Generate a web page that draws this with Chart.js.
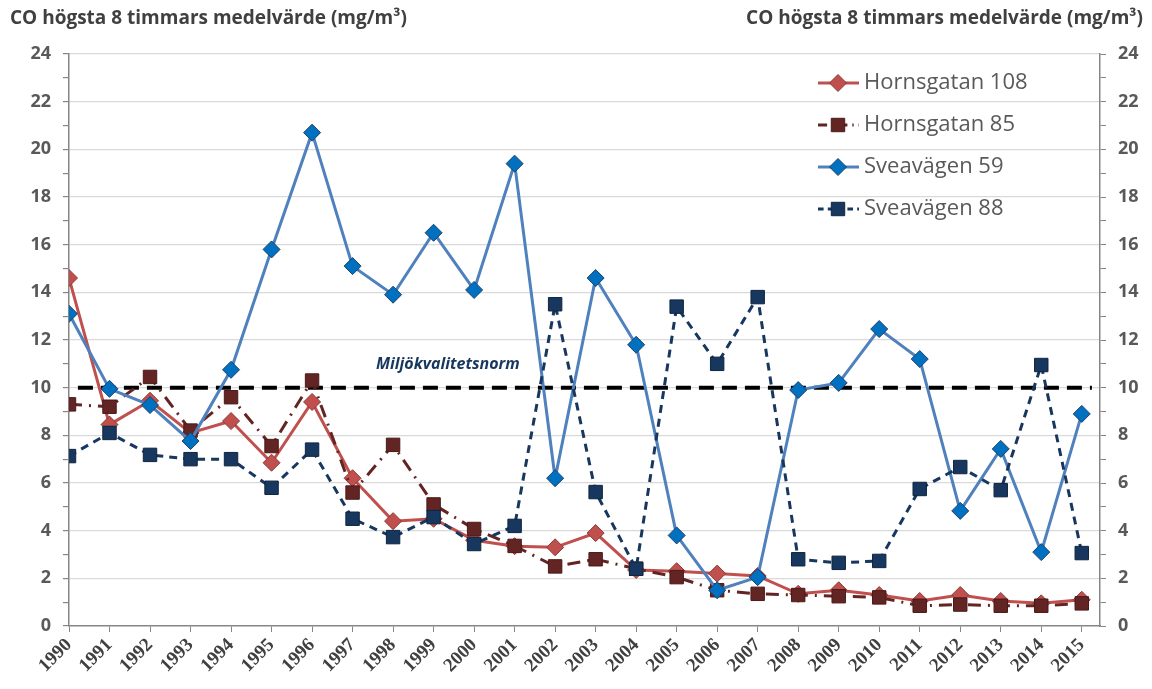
<!DOCTYPE html>
<html>
<head>
<meta charset="utf-8">
<script src="https://cdn.jsdelivr.net/npm/chart.js@4.4.0/dist/chart.umd.min.js"></script>
<style>
    body { margin: 0; background: #ffffff; }
    #wrap { width: 1152px; height: 689px; }
</style>
</head>
<body>
<div id="wrap"><canvas id="myChart"></canvas></div>
<script>
// data
const years = [1990, 1991, 1992, 1993, 1994, 1995, 1996, 1997, 1998, 1999, 2000, 2001, 2002,
    2003, 2004, 2005, 2006, 2007, 2008, 2009, 2010, 2011, 2012, 2013, 2014, 2015];
const hornsgatan108 = [14.6, 8.45, 9.45, 8.1, 8.6, 6.85, 9.4, 6.2, 4.4, 4.5, 3.6, 3.35, 3.3,
    3.9, 2.35, 2.3, 2.2, 2.1, 1.35, 1.5, 1.3, 1.05, 1.3, 1.05, 0.95, 1.1];
const hornsgatan85 = [9.3, 9.2, 10.45, 8.2, 9.6, 7.55, 10.3, 5.6, 7.6, 5.1, 4.07, 3.36, 2.5,
    2.8, 2.4, 2.05, 1.5, 1.35, 1.3, 1.25, 1.2, 0.85, 0.9, 0.85, 0.85, 0.95];
const sveavagen59 = [13.1, 9.95, 9.27, 7.76, 10.75, 15.8, 20.7, 15.1, 13.9, 16.5, 14.1, 19.4, 6.2,
    14.6, 11.8, 3.8, 1.5, 2.05, 9.9, 10.2, 12.46, 11.2, 4.83, 7.43, 3.1, 8.9];
const sveavagen88 = [7.13, 8.1, 7.18, 7.0, 7.0, 5.8, 7.4, 4.5, 3.73, 4.57, 3.44, 4.2, 13.5,
    5.62, 2.4, 13.4, 11.0, 13.8, 2.8, 2.65, 2.73, 5.75, 6.67, 5.7, 10.95, 3.06];
const normValue = 10;
const normLabel = 'Miljökvalitetsnorm';
const axisTitle = 'CO högsta 8 timmars medelvärde (mg/m³)';

const toPoints = (vals) => vals.map((v, i) => ({ x: years[i], y: v }));

const series = [
    { label: 'Hornsgatan 108', data: hornsgatan108, line: '#c0504d', fill: '#c0504d', edge: '#8a3a37', dash: [], style: 'rectRot', r: 8.5 },
    { label: 'Hornsgatan 85', data: hornsgatan85, line: '#632523', fill: '#632523', edge: '#4a1a19', dash: [13, 7, 2, 7], style: 'rect', r: 9.5 },
    { label: 'Sveavägen 59', data: sveavagen59, line: '#4f81bd', fill: '#0070c0', edge: '#1f3f66', dash: [], style: 'rectRot', r: 8.5 },
    { label: 'Sveavägen 88', data: sveavagen88, line: '#17375e', fill: '#17375e', edge: '#0f2540', dash: [8, 6], style: 'rect', r: 9.5 }
];

const datasets = series.map((s, i) => ({
    label: s.label,
    data: toPoints(s.data),
    borderColor: s.line,
    borderWidth: 3,
    borderDash: s.dash,
    pointStyle: s.style,
    pointRadius: s.r,
    pointBackgroundColor: s.fill,
    pointBorderColor: s.edge,
    pointBorderWidth: 1,
    tension: 0,
    order: 4 - i
}));

datasets.push({
    label: 'norm',
    data: [{ x: 1990.22, y: normValue }, { x: 2015.25, y: normValue }],
    borderColor: '#000000',
    borderWidth: 4,
    borderDash: [15, 8],
    pointRadius: 0,
    order: 10
});

const textPlugin = {
    id: 'textPlugin',
    afterDraw(chart) {
        const ctx = chart.ctx;
        ctx.save();
        ctx.fillStyle = '#404040';
        ctx.font = 'bold 19px "Open Sans"';
        ctx.textBaseline = 'middle';
        ctx.textAlign = 'left';
        ctx.fillText(axisTitle, 10, 19);
        ctx.textAlign = 'right';
        ctx.fillText(axisTitle, 1143, 19);

        // norm label
        const yS = chart.scales.y;
        ctx.fillStyle = '#17375e';
        ctx.font = 'italic bold 16px "Open Sans"';
        ctx.textAlign = 'left';
        ctx.fillText(normLabel, 376, yS.getPixelForValue(normValue) - 23);

        // legend
        const lx = 818, ly = 83, gap = 42;
        series.forEach((s, i) => {
            const y = ly + i * gap;
            ctx.strokeStyle = s.line;
            ctx.lineWidth = 3;
            ctx.setLineDash(s.dash.length ? s.dash.map(d => d * 0.7) : []);
            ctx.beginPath();
            ctx.moveTo(lx, y);
            ctx.lineTo(lx + 41, y);
            ctx.stroke();
            ctx.setLineDash([]);
            ctx.fillStyle = s.fill;
            ctx.strokeStyle = s.edge;
            ctx.lineWidth = 1;
            Chart.helpers.drawPoint(ctx, { pointStyle: s.style, radius: s.r, rotation: 0, borderWidth: 1 }, lx + 20, y);
            ctx.fillStyle = '#595959';
            ctx.font = '22px "Open Sans"';
            ctx.textAlign = 'left';
            ctx.fillText(s.label, lx + 46, y);
        });
        ctx.restore();
    }
};

const yTicks = {
    stepSize: 1,
    autoSkip: false,
    padding: 12,
    color: '#595959',
    font: { family: '"Open Sans"', size: 18, weight: 'bold' },
    callback: (v) => (v % 2 === 0 ? String(v) : '')
};

var ctx = document.getElementById('myChart').getContext('2d');
var myChart = new Chart(ctx, {
    type: 'line',
    data: { datasets: datasets },
    options: {
        responsive: true,
        maintainAspectRatio: false,
        animation: false,
        layout: { padding: { top: 54, left: 0, right: 0, bottom: 0 } },
        plugins: {
            legend: { display: false },
            tooltip: { enabled: false }
        },
        scales: {
            x: {
                type: 'linear',
                min: 1990,
                max: 2015.45,
                afterBuildTicks: (scale) => {
                    scale.ticks = years.map(y => ({ value: y }));
                },
                afterFit: (scale) => { scale.height = 63; },
                ticks: {
                    autoSkip: false,
                    minRotation: 45,
                    maxRotation: 45,
                    padding: 2,
                    color: '#404040',
                    font: { family: '"Liberation Serif"', size: 19, weight: 'bold' },
                    callback: (v) => String(v)
                },
                grid: { drawOnChartArea: false, drawTicks: true, tickLength: 6, color: '#868686' },
                border: { color: '#868686', width: 1.5 }
            },
            y: {
                position: 'left',
                min: 0,
                max: 24,
                afterFit: (scale) => { scale.width = 69; },
                ticks: yTicks,
                grid: {
                    color: (c) => (c.tick.value % 2 === 0 && c.tick.value !== 0 ? '#d9d9d9' : 'rgba(0,0,0,0)'),
                    tickColor: '#868686',
                    tickLength: 6,
                    lineWidth: 1.2
                },
                border: { color: '#868686', width: 1.5 }
            },
            y2: {
                position: 'right',
                min: 0,
                max: 24,
                afterFit: (scale) => { scale.width = 52; },
                ticks: yTicks,
                grid: { drawOnChartArea: false, color: '#868686', tickLength: 6 },
                border: { color: '#868686', width: 1.5 }
            }
        }
    },
    plugins: [textPlugin]
});
</script>
</body>
</html>
